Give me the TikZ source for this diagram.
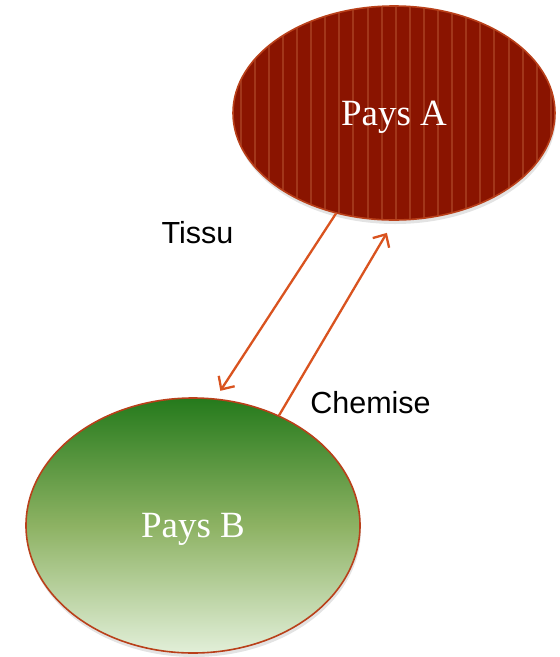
\documentclass[tikz,border=0pt]{standalone}
\usepackage{fontspec}
\setmainfont{Liberation Serif}
\newfontfamily\labelfont{Liberation Sans}
\usetikzlibrary{shapes.geometric,arrows.meta,shadows}
\definecolor{redfill}{HTML}{8A1400}
\definecolor{redstripe}{HTML}{A2361A}
\definecolor{edgecol}{HTML}{B9401A}
\definecolor{arrowcol}{HTML}{D9531F}
\definecolor{greentop}{HTML}{257A1C}
\definecolor{greenmid}{HTML}{8DB263}
\definecolor{greenbot}{HTML}{E2EFD9}
\tikzset{
  country/.style={ellipse, draw=edgecol, line width=1.6pt, inner sep=0pt,
    text=white, font=\fontsize{37}{40}\selectfont, text depth=0pt, text height=24.5pt,
    drop shadow={shadow xshift=1pt, shadow yshift=-4pt, opacity=0.22}},
  stripeline/.style={draw=redstripe, line width=2pt},
  trade/.style={draw=arrowcol, line width=2.3pt, -{Straight Barb[length=10pt,width=19pt]}},
  flowlabel/.style={font=\labelfont\fontsize{30.5}{32}\selectfont, anchor=base, inner sep=0pt}
}
\begin{document}
\begin{tikzpicture}[x=1pt,y=-1pt]
\useasboundingbox (0,0) rectangle (560,657);
\node[country, fill=redfill, minimum width=322pt, minimum height=214pt,
  path picture={
    \foreach \k in {-12,...,12}{
      \pgfmathsetmacro\xs{1.7+\k*14.1}
      \draw[stripeline] ([xshift=\xs pt]path picture bounding box.north) -- ([xshift=\xs pt]path picture bounding box.south);
    }
  }] (A) at (394,113) {Pays A};
\node[country, top color=greentop, bottom color=greenbot, middle color=greenmid,
  minimum width=334pt, minimum height=255pt] (B) at (193,525.5) {Pays B};
\draw[trade, shorten >=9pt] (A.240) -- (B.80);
\draw[trade, shorten >=14pt] (B.52) -- (A.270);
\node[flowlabel] (tissu) at (197.5,243) {Tissu};
\node[flowlabel] (chemise) at (370.5,413) {Chemise};
\end{tikzpicture}
\end{document}
